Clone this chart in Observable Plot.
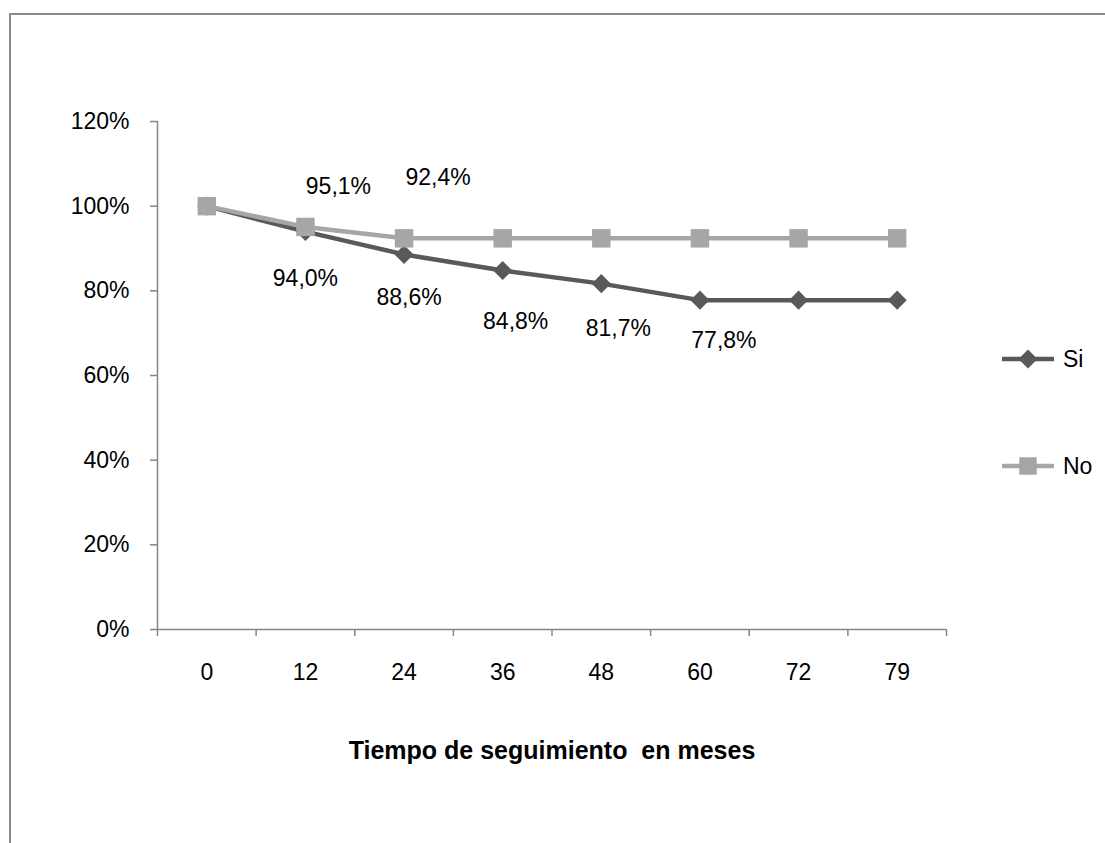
<!DOCTYPE html>
<html>
<head>
<meta charset="utf-8">
<script src="https://cdn.jsdelivr.net/npm/d3@7"></script>
<script src="https://cdn.jsdelivr.net/npm/@observablehq/plot@0.6"></script>
<style>
  html, body { margin: 0; padding: 0; background: #fff; }
  #wrap { position: relative; width: 1105px; height: 843px; overflow: hidden; }
  #frame { position: absolute; left: 9px; top: 13px; width: 1200px; height: 900px;
           border-left: 2px solid #8a8a8a; border-top: 2px solid #8a8a8a; pointer-events: none; }
  svg { display: block; }
  [aria-label^="y-axis"] line, [aria-label^="y-axis"] path,
  [aria-label^="x-axis"] line, [aria-label^="x-axis"] path { stroke: #868686; stroke-width: 1.5; }
  [aria-label^="y-axis"] text, [aria-label^="x-axis"] text { fill: #000; }
</style>
</head>
<body>
<div id="wrap"><div id="frame"></div></div>
<script>
// Follow-up time categories (months)
const months = ["0", "12", "24", "36", "48", "60", "72", "79"];
// Survival percentages per group
const si = [100, 94.0, 88.6, 84.8, 81.7, 77.8, 77.8, 77.8];
const no = [100, 95.1, 92.4, 92.4, 92.4, 92.4, 92.4, 92.4];
// Y axis tick values (percent)
const yTicks = [0, 20, 40, 60, 80, 100, 120];
const seriesNames = ["Si", "No"];
const xTitle = "Tiempo de seguimiento  en meses";

const rows = months.map((m, i) => ({i, month: m, si: si[i], no: no[i]}));
// category boundaries, where the x tick marks sit
const bounds = d3.range(months.length + 1).map(k => k - 0.5);

const colSi = "#595959";
const colNo = "#a6a6a6";
const fmt = v => v.toFixed(1).replace(".", ",") + "%";

// data labels: which points carry a label and where it sits around the point
const siLabels = [
  {i: 1, dx: 0, dy: 47}, {i: 2, dx: 5, dy: 43}, {i: 3, dx: 13, dy: 51},
  {i: 4, dx: 17, dy: 45}, {i: 5, dx: 24, dy: 40}
];
const noLabels = [{i: 1, dx: 33, dy: -40}, {i: 2, dx: 34, dy: -61}];

const font = "'Liberation Sans', Arial, sans-serif";

const chart = Plot.plot({
  width: 1105,
  height: 843,
  marginLeft: 157,
  marginRight: 159,
  marginTop: 121,
  marginBottom: 214,
  style: {fontSize: "23px", fontFamily: font, color: "#000", background: "transparent", overflow: "visible"},
  x: {type: "linear", domain: [bounds[0], bounds[bounds.length - 1]], ticks: bounds, tickSize: 7, tickFormat: () => "", label: null},
  y: {domain: [yTicks[0], yTicks[yTicks.length - 1]], ticks: yTicks, tickSize: 7, tickPadding: 21, tickFormat: d => d + "%", label: null},
  marks: [
    Plot.ruleX([bounds[0]], {stroke: "#868686", strokeWidth: 1.5}),
    Plot.ruleY([0], {stroke: "#868686", strokeWidth: 1.5}),
    // category labels under the axis
    Plot.text(rows, {x: "i", text: "month", frameAnchor: "bottom", lineAnchor: "top", dy: 34, fontSize: 23}),
    Plot.text([xTitle], {text: d => d, frameAnchor: "bottom", lineAnchor: "middle", dy: 121, fontWeight: "bold", fontSize: 25}),
    // Si series
    Plot.line(rows, {x: "i", y: "si", stroke: colSi, strokeWidth: 4.5}),
    Plot.dot(rows, {x: "i", y: "si", symbol: "diamond2", r: 8.6, fill: colSi}),
    // No series
    Plot.line(rows, {x: "i", y: "no", stroke: colNo, strokeWidth: 4.5}),
    Plot.dot(rows, {x: "i", y: "no", symbol: "square", r: 10.4, fill: colNo}),
    ...siLabels.map(({i, dx, dy}) => Plot.text([rows[i]], {x: "i", y: "si", text: d => fmt(d.si), dx, dy, fontSize: 23})),
    ...noLabels.map(({i, dx, dy}) => Plot.text([rows[i]], {x: "i", y: "no", text: d => fmt(d.no), dx, dy, fontSize: 23}))
  ]
});

// keep the double space in the axis title
d3.select(chart).selectAll("text").filter(function() { return this.textContent === xTitle; })
  .attr("xml:space", "preserve").style("white-space", "pre");

// legend on the right
const svg = d3.select(chart);
const leg = svg.append("g").attr("font-family", font).attr("font-size", 23).attr("text-anchor", "start");
const legendItems = [
  {name: seriesNames[0], color: colSi, symbol: d3.symbolDiamond2, size: Math.PI * 8.6 * 8.6, y: 359},
  {name: seriesNames[1], color: colNo, symbol: d3.symbolSquare, size: Math.PI * 10.4 * 10.4 * 0.9, y: 466}
];
legendItems.forEach(it => {
  const g = leg.append("g").attr("transform", `translate(0,${it.y})`);
  g.append("line").attr("x1", 1002).attr("x2", 1054).attr("stroke", it.color).attr("stroke-width", 4.5);
  g.append("path").attr("d", d3.symbol(it.symbol, it.size)()).attr("transform", "translate(1028,0)").attr("fill", it.color);
  g.append("text").attr("x", 1063).attr("dy", "0.35em").attr("fill", "#000").attr("text-anchor", "start").text(it.name);
});

document.getElementById("wrap").prepend(chart);
</script>
</body>
</html>
